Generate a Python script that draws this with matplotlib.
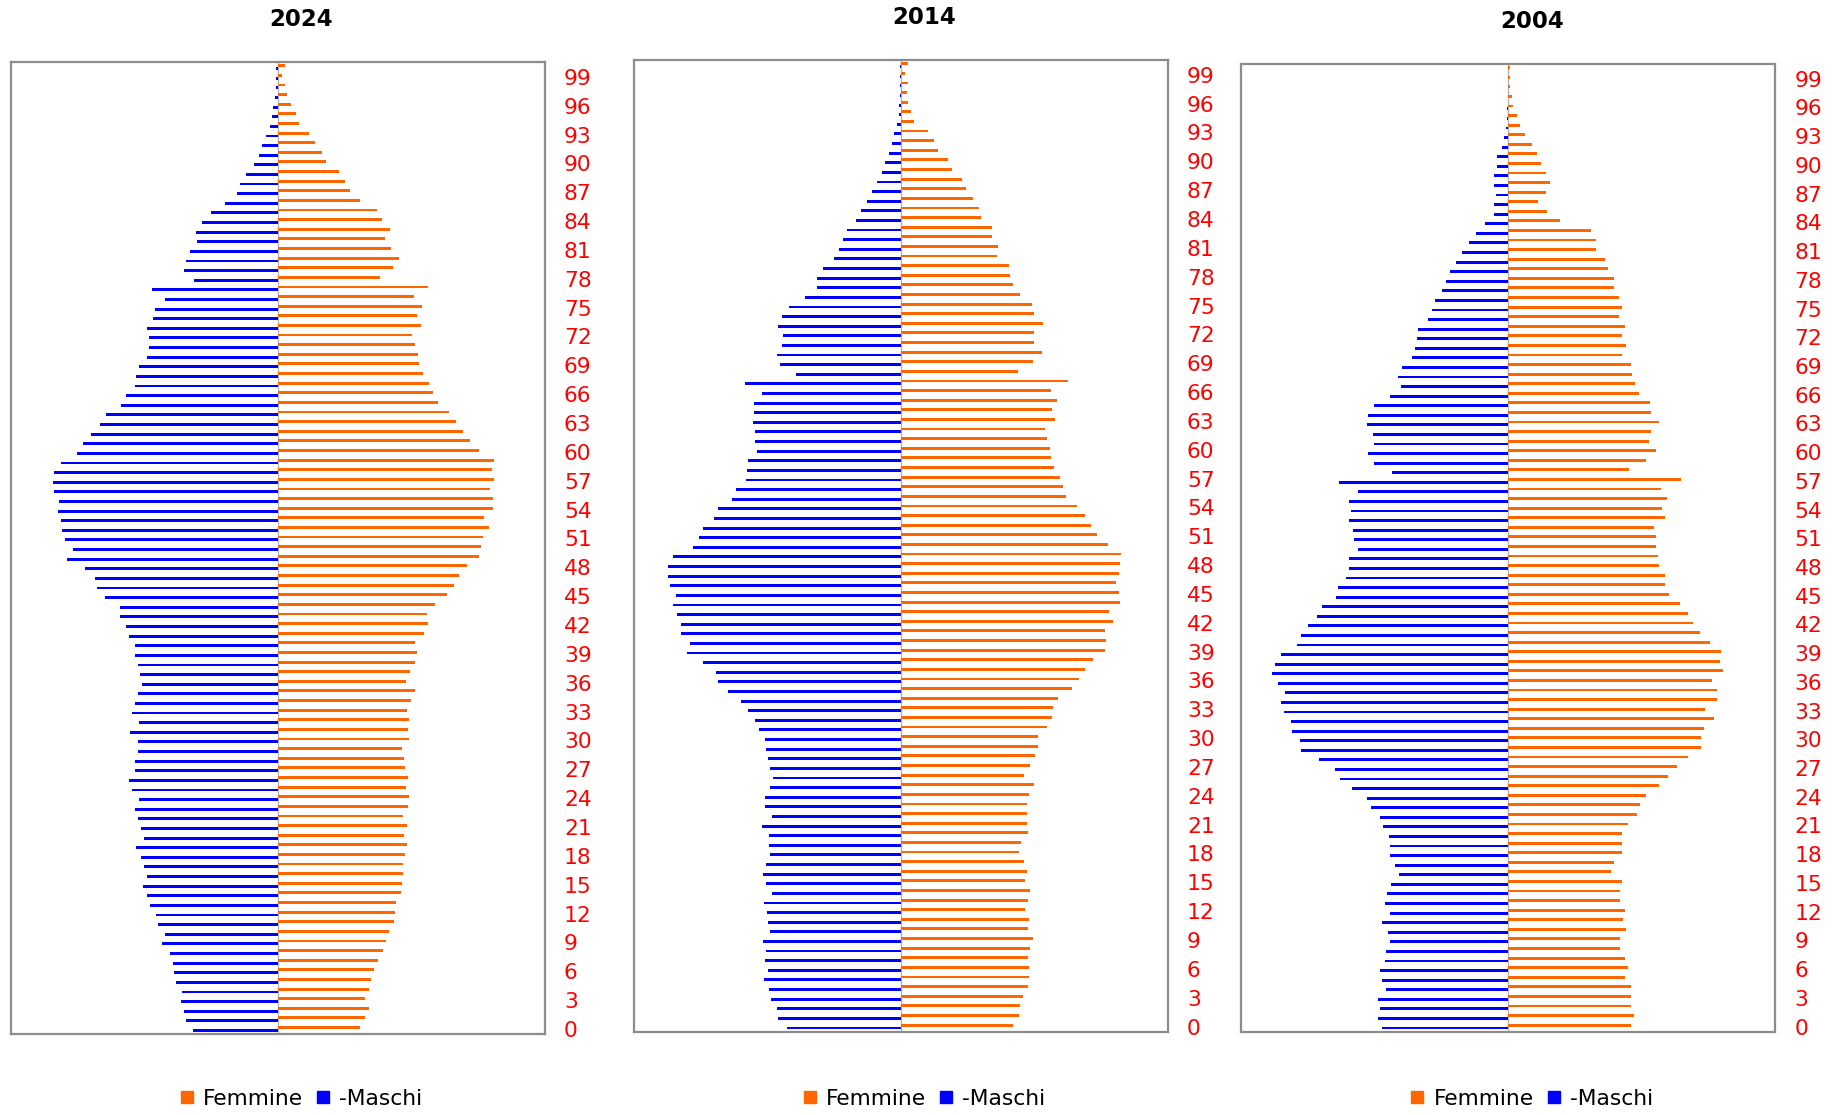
import numpy as np
import matplotlib
matplotlib.use("Agg")
import matplotlib.pyplot as plt
from matplotlib.lines import Line2D

# values, ages 0..100 (same arbitrary units for all panels)
ages = np.arange(0, 101)

femmine_2024 = [220, 233, 244, 233, 244, 249, 257, 268, 281, 289, 297, 311, 313, 316, 329, 332, 334, 334, 340, 345, 337, 345, 334, 348, 350,
                342, 348, 340, 337, 332, 350, 348, 350, 345, 356, 366, 342, 353, 366, 372, 366, 390, 401, 398, 419, 451, 470, 483, 505, 536,
                542, 547, 563, 550, 574, 574, 566, 576, 571, 576, 536, 513, 494, 475, 457, 427, 414, 404, 388, 377, 374, 366, 358, 382, 372,
                385, 364, 401, 273, 308, 324, 303, 287, 300, 279, 265, 220, 194, 180, 164, 130, 119, 101, 85, 58, 50, 37, 26, 21, 12, 21]
maschi_2024 = [226, 242, 248, 256, 253, 271, 274, 279, 285, 306, 298, 317, 322, 338, 346, 357, 346, 354, 362, 375, 354, 362, 370, 380, 367,
               386, 396, 380, 378, 370, 370, 391, 367, 386, 378, 372, 359, 365, 370, 378, 380, 394, 402, 418, 420, 458, 479, 484, 513, 559,
               545, 564, 572, 577, 585, 580, 593, 596, 593, 577, 532, 516, 497, 471, 455, 415, 404, 380, 375, 367, 346, 341, 343, 346, 330,
               327, 298, 335, 221, 248, 242, 232, 213, 218, 202, 176, 139, 109, 99, 83, 62, 48, 40, 30, 19, 14, 11, 6, 4, 3, 4]

femmine_2014 = [299, 315, 318, 326, 339, 342, 342, 339, 345, 352, 339, 342, 331, 339, 345, 331, 337, 329, 315, 321, 339, 337, 337, 337, 342,
                355, 329, 345, 358, 366, 366, 390, 403, 405, 419, 456, 474, 490, 511, 543, 546, 543, 564, 554, 583, 580, 572, 580, 583, 586,
                551, 522, 506, 490, 469, 440, 432, 424, 408, 400, 397, 390, 384, 411, 403, 416, 400, 445, 313, 352, 376, 355, 355, 379, 355,
                350, 318, 299, 292, 289, 257, 260, 244, 244, 215, 209, 194, 175, 164, 138, 127, 101, 88, 72, 35, 27, 19, 16, 19, 13, 19]
maschi_2014 = [302, 326, 328, 344, 349, 363, 352, 360, 357, 365, 347, 352, 355, 363, 341, 357, 365, 357, 347, 349, 349, 368, 341, 360, 360,
               347, 339, 347, 352, 357, 360, 376, 387, 405, 424, 458, 485, 490, 524, 569, 561, 585, 585, 593, 604, 598, 612, 617, 617, 604,
               553, 537, 524, 495, 485, 447, 437, 410, 408, 405, 381, 387, 387, 392, 389, 389, 368, 413, 278, 320, 328, 315, 312, 326, 315,
               296, 254, 222, 222, 206, 177, 164, 153, 143, 119, 106, 90, 77, 63, 50, 41, 31, 23, 17, 9, 4, 4, 2, 2, 2, 2]

femmine_2004 = [328, 336, 326, 326, 328, 312, 318, 312, 297, 297, 315, 307, 310, 297, 297, 302, 275, 283, 302, 302, 302, 320, 344, 350, 368,
                402, 426, 450, 479, 514, 514, 521, 548, 524, 556, 556, 543, 572, 564, 567, 537, 511, 492, 479, 458, 429, 418, 418, 402, 400,
                394, 394, 389, 418, 410, 423, 407, 460, 323, 368, 394, 376, 381, 402, 381, 378, 349, 339, 331, 328, 304, 315, 304, 312, 294,
                302, 294, 283, 283, 265, 259, 235, 233, 220, 137, 103, 81, 100, 111, 100, 89, 76, 63, 44, 33, 25, 14, 11, 6, 6, 6]
maschi_2004 = [336, 347, 341, 347, 325, 336, 341, 328, 325, 315, 320, 336, 315, 328, 323, 312, 291, 301, 315, 315, 317, 333, 341, 363, 376,
               416, 448, 461, 503, 551, 554, 575, 578, 596, 604, 594, 612, 628, 620, 604, 562, 551, 533, 509, 495, 458, 453, 432, 424, 424,
               400, 410, 413, 424, 418, 424, 400, 450, 309, 357, 373, 357, 360, 376, 373, 357, 315, 285, 293, 283, 256, 248, 243, 240, 214,
               203, 195, 176, 166, 153, 139, 121, 105, 86, 60, 38, 36, 33, 38, 36, 28, 28, 17, 11, 5, 3, 3, 1, 1, 1, 1]

years = ["2024", "2014", "2004"]
femmine = [femmine_2024, femmine_2014, femmine_2004]
maschi = [maschi_2024, maschi_2014, maschi_2004]
tick_ages = list(range(0, 100, 3))

W, H = 1836, 1115
fig = plt.figure(figsize=(W / 100, H / 100), dpi=100)
plt.rcParams['font.family'] = ['DejaVu Sans']

# frame boxes in pixels: left, top, right, bottom
boxes = [(10.5, 62, 544.5, 1034), (633.5, 60, 1167.5, 1031.5), (1241, 64, 1775, 1031.5)]
title_y = [20, 17.5, 22]

for i in range(3):
    l, t, r, b = boxes[i]
    ax = fig.add_axes([l / W, (H - b) / H, (r - l) / W, (b - t) / H])
    f = np.array(femmine[i])
    m = np.array(maschi[i])
    ax.barh(ages + 0.15, f, height=0.3, color='#FF6600', label='Femmine')
    ax.barh(ages - 0.15, -m, height=0.3, color='#0000FF', label='-Maschi')
    ax.axvline(0, color='#b0b0b0', lw=0.9, zorder=0)
    ax.set_xlim(-710, 710)
    ax.set_ylim(-0.52, 100.54)
    ax.set_xticks([])
    ax.set_yticks(tick_ages)
    ax.set_yticklabels([str(a) for a in tick_ages])
    ax.yaxis.tick_right()
    ax.tick_params(axis='y', length=0, pad=14, labelsize=15.7, labelcolor='#FF0000')
    for s in ax.spines.values():
        s.set_color('#8c8c8c')
        s.set_linewidth(1.6)

    cx = (l + r) / 2 + 24
    fig.text(cx / W, 1 - title_y[i] / H, years[i], ha='center', va='center',
             fontsize=16.5, fontweight='bold')

    handles = [Line2D([], [], marker='s', ls='', color='#FF6600', markersize=9),
               Line2D([], [], marker='s', ls='', color='#0000FF', markersize=9)]
    fig.legend(handles, ['Femmine', '-Maschi'], loc='center',
               bbox_to_anchor=(cx / W, 1 - 1099 / H), ncol=2, frameon=False,
               fontsize=15.7, handlelength=0.6, handletextpad=0.45, columnspacing=0.6,
               borderpad=0, borderaxespad=0)

fig.savefig("out.png", dpi=100, facecolor='white')
